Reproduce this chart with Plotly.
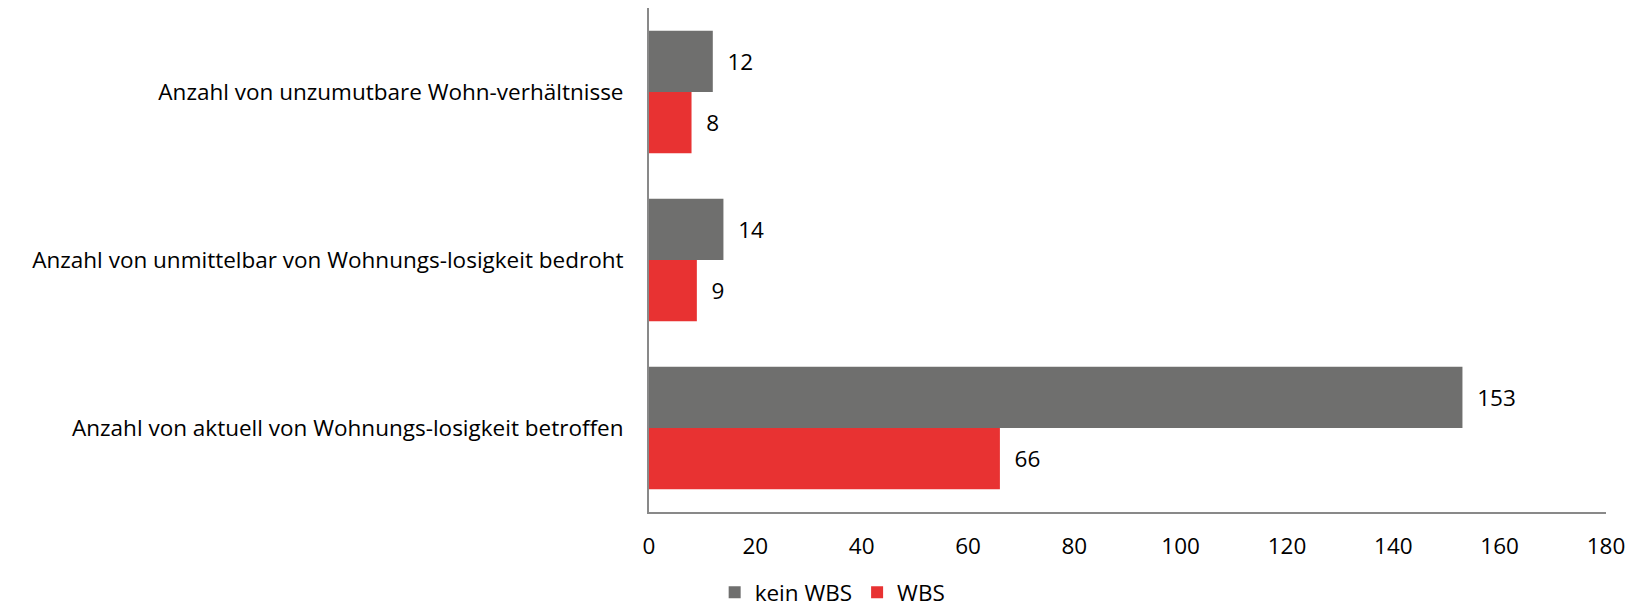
import plotly.graph_objects as go

categories = [
    "Anzahl von aktuell von Wohnungs-losigkeit betroffen",
    "Anzahl von unmittelbar von Wohnungs-losigkeit bedroht",
    "Anzahl von unzumutbare Wohn-verhältnisse",
]
kein_wbs = [153, 14, 12]
wbs = [66, 9, 8]
x_ticks = [0, 20, 40, 60, 80, 100, 120, 140, 160, 180]

FONT = "Open Sans"
FS = 22.5
fig = go.Figure()
fig.add_trace(go.Bar(
    y=categories, x=wbs, name="WBS", orientation="h",
    marker=dict(color="#e83232", line=dict(width=0)),
    text=wbs, texttemplate="  %{x}", textposition="outside",
    textfont=dict(size=FS, color="#000000", family=FONT), cliponaxis=False,
))
fig.add_trace(go.Bar(
    y=categories, x=kein_wbs, name="kein WBS", orientation="h",
    marker=dict(color="#6f6f6e", line=dict(width=0)),
    text=kein_wbs, texttemplate="  %{x}", textposition="outside",
    textfont=dict(size=FS, color="#000000", family=FONT), cliponaxis=False,
))
fig.update_layout(
    width=1633, height=606,
    margin=dict(l=641, r=35, t=0, b=102, autoexpand=False),
    paper_bgcolor="white", plot_bgcolor="white",
    barmode="group", bargap=0.27, bargroupgap=0,
    font=dict(family=FONT, size=FS, color="#000000"),
    showlegend=True,
    legend=dict(orientation="h", traceorder="reversed",
                xref="container", x=0.505, xanchor="center",
                yref="paper", y=-0.16, yanchor="middle",
                font=dict(size=FS), itemwidth=30),
    xaxis=dict(range=[0, 180], tickvals=x_ticks, showgrid=False, zeroline=False,
               showline=True, linecolor="#898989", linewidth=2, ticks="",
               ticklabelstandoff=13, tickfont=dict(size=FS)),
    yaxis=dict(showgrid=False, zeroline=False, showline=True, linecolor="#898989",
               linewidth=2, ticks="", ticklabelstandoff=19, tickfont=dict(size=FS)),
)
fig.write_html("out.html")
